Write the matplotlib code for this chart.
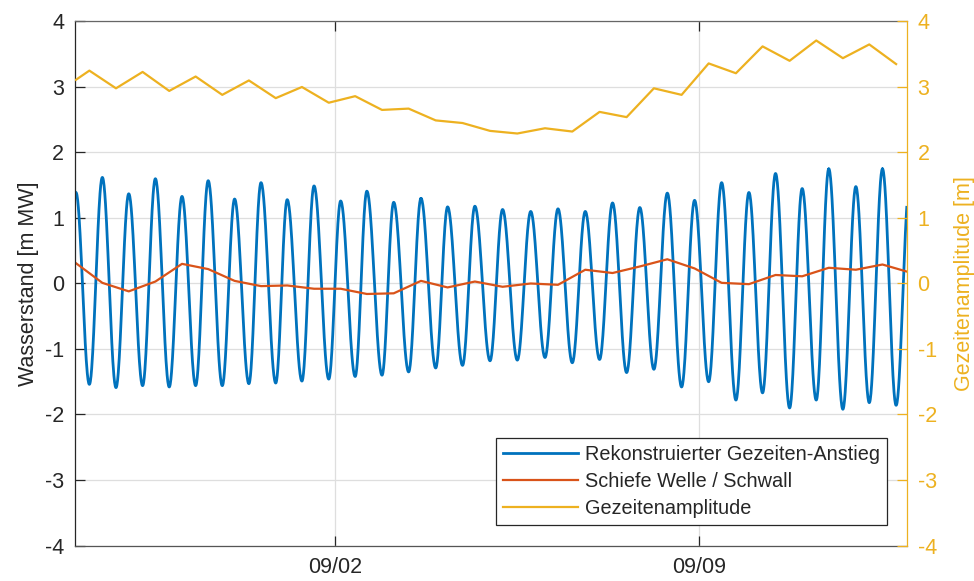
import numpy as np
import pandas as pd
import matplotlib
matplotlib.use('Agg')
import matplotlib.pyplot as plt
import matplotlib.dates as mdates

plt.rcParams['font.family'] = ['Liberation Sans', 'DejaVu Sans']
plt.rcParams['axes.unicode_minus'] = False

# Start der Zeitachse
t0 = pd.Timestamp('2019-08-28 00:00')
t_end = pd.Timestamp('2019-09-13 00:00')

# Hochwasser (Stunden ab t0) und Wasserstand [m MW]
hw_hours = [0.3, 12.5, 24.7, 37.0, 49.3, 61.4, 73.6, 85.8, 97.9, 110.3, 122.6, 134.7,
            147.1, 159.7, 172.0, 184.6, 197.4, 210.4, 223.0, 235.6, 248.2, 260.8,
            273.5, 286.1, 298.6, 311.2, 323.5, 335.8, 348.1, 360.6, 372.9, 385.4]
hw_levels = [1.39, 1.62, 1.37, 1.60, 1.33, 1.57, 1.29, 1.54, 1.28, 1.49, 1.26, 1.41,
             1.24, 1.30, 1.17, 1.18, 1.13, 1.10, 1.14, 1.10, 1.23, 1.16,
             1.38, 1.27, 1.54, 1.39, 1.68, 1.45, 1.75, 1.48, 1.75, 1.50]

# Niedrigwasser
lw_hours = [6.5, 18.8, 31.1, 43.4, 55.6, 67.9, 80.2, 92.6, 104.7, 117.1, 129.3,
            141.7, 154.0, 166.5, 178.9, 191.6, 204.2, 217.0, 229.6, 242.2, 254.7,
            267.3, 280.1, 292.6, 305.2, 317.5, 330.0, 342.3, 354.6, 366.8, 379.2]
lw_levels = [-1.54, -1.59, -1.56, -1.58, -1.56, -1.56, -1.53, -1.52, -1.49, -1.46, -1.42,
             -1.40, -1.35, -1.29, -1.25, -1.18, -1.17, -1.13, -1.21, -1.16, -1.36,
             -1.31, -1.58, -1.50, -1.78, -1.67, -1.90, -1.78, -1.92, -1.82, -1.86]

# Schiefe Welle / Schwall (an den Hochwasserzeiten)
schwall_hours = hw_hours
schwall = [0.31, 0.01, -0.12, 0.03, 0.30, 0.22, 0.04, -0.04, -0.03, -0.08, -0.08, -0.16,
           -0.15, 0.04, -0.06, 0.03, -0.05, 0.00, -0.02, 0.21, 0.16, 0.26,
           0.37, 0.23, 0.01, -0.01, 0.13, 0.11, 0.24, 0.21, 0.29, 0.17]

# Gezeitenamplitude (an den Niedrigwasserzeiten)
amp_hours = [0.3] + lw_hours
amplitude = [3.11, 3.25, 2.98, 3.23, 2.94, 3.16, 2.88, 3.10, 2.83, 3.00, 2.76, 2.86,
             2.65, 2.67, 2.49, 2.45, 2.33, 2.29, 2.37, 2.32, 2.62, 2.54,
             2.98, 2.88, 3.36, 3.21, 3.62, 3.40, 3.71, 3.44, 3.65, 3.35]

c_blue = '#0072BD'
c_orange = '#D95319'
c_yellow = '#EDB120'
c_axis = '#262626'

# Gezeitenkurve: HW und NW abwechselnd, dazwischen halbe Kosinuswelle
ext_h = np.array(hw_hours + lw_hours)
ext_v = np.array(hw_levels + lw_levels)
order = np.argsort(ext_h)
ext_h = ext_h[order]
ext_v = ext_v[order]
tide_h = []
tide_v = []
for i in range(len(ext_h) - 1):
    s = np.linspace(0, 1, 40)
    tide_h.extend(ext_h[i] + (ext_h[i + 1] - ext_h[i]) * s)
    tide_v.extend(ext_v[i] + (ext_v[i + 1] - ext_v[i]) * (1 - np.cos(np.pi * s)) / 2)

def to_time(hours):
    return t0 + pd.to_timedelta(np.asarray(hours), unit='h')

fig = plt.figure(figsize=(9.74, 5.81), dpi=100)
ax = fig.add_axes([0.0773, 0.0611, 0.8534, 0.9019])
ax2 = ax.twinx()

l1, = ax.plot(to_time(tide_h), tide_v, color=c_blue, lw=2.0)
l2, = ax.plot(to_time(schwall_hours), schwall, color=c_orange, lw=1.6)
l3, = ax2.plot(to_time(amp_hours), amplitude, color=c_yellow, lw=1.6)

ax.set_xlim(t0, t_end)
ax.set_ylim(-4, 4)
ax2.set_ylim(-4, 4)
ax.set_yticks(range(-4, 5))
ax2.set_yticks(range(-4, 5))
ax.set_xticks([pd.Timestamp('2019-09-02'), pd.Timestamp('2019-09-09')])
ax.xaxis.set_major_formatter(mdates.DateFormatter('%m/%d'))

ax.grid(True, color='#dedede', lw=0.9)
ax.set_axisbelow(True)

ax.tick_params(axis='both', direction='in', length=7, width=0.9, colors=c_axis,
               labelsize=15.5, top=True, right=False)
ax.tick_params(axis='x', pad=8)
ax.tick_params(axis='y', pad=8)
for side in ['left', 'bottom', 'top']:
    ax.spines[side].set_color(c_axis)
    ax.spines[side].set_linewidth(0.9)
ax.spines['top'].set_color('#666666')
ax.spines['bottom'].set_color('#555555')
ax.spines['right'].set_visible(False)

ax2.tick_params(axis='y', direction='in', length=7, width=0.9, colors=c_yellow,
                labelsize=15.5, pad=8)
for side in ['left', 'bottom', 'top']:
    ax2.spines[side].set_visible(False)
ax2.spines['right'].set_color(c_yellow)
ax2.spines['right'].set_linewidth(0.9)

ax.set_ylabel('Wasserstand [m MW]', fontsize=15.5, color=c_axis, labelpad=4)
ax2.set_ylabel('Gezeitenamplitude [m]', fontsize=15.5, color=c_yellow, labelpad=12)

leg = ax2.legend([l1, l2, l3],
                 ['Rekonstruierter Gezeiten-Anstieg', 'Schiefe Welle / Schwall', 'Gezeitenamplitude'],
                 loc='lower right', bbox_to_anchor=(0.9765, 0.039), borderaxespad=0,
                 fontsize=14.3, handlelength=3.8, handletextpad=0.35, labelspacing=0.4,
                 borderpad=0.35, fancybox=False, framealpha=1, edgecolor=c_axis)
leg.get_frame().set_linewidth(0.9)
for t in leg.get_texts():
    t.set_color(c_axis)

fig.savefig('out.png', dpi=100)
